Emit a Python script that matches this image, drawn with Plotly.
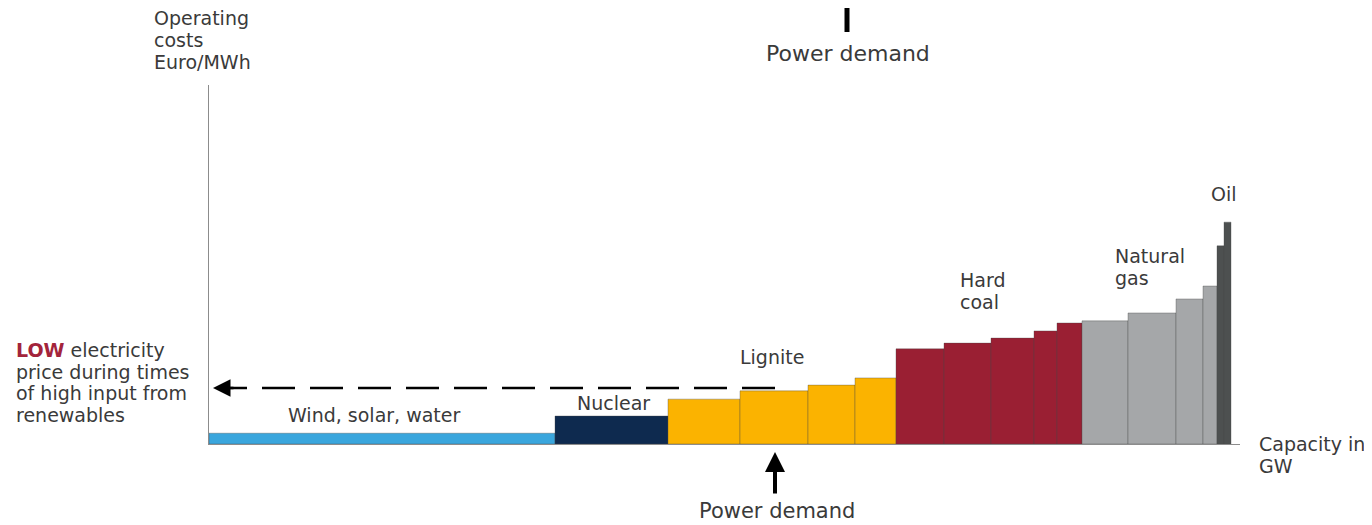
import plotly.graph_objects as go

# ---- data (capacity in GW, operating cost in Euro/MWh) ----
wind_w = [34.6]
wind_c = [3.0]
nuclear_w = [11.3]
nuclear_c = [7.8]
lignite_w = [7.2, 6.8, 4.7, 4.1]
lignite_c = [12.5, 14.8, 16.4, 18.4]
coal_w = [4.8, 4.7, 4.3, 2.3, 2.5]
coal_c = [26.5, 28.1, 29.5, 31.5, 33.7]
gas_w = [4.6, 4.8, 2.7, 1.4]
gas_c = [34.3, 36.5, 40.4, 44.0]
oil_w = [0.7, 0.7]
oil_c = [55.2, 61.8]

groups = [
    ("Wind, solar, water", wind_w, wind_c, "#3aa6dd"),
    ("Nuclear", nuclear_w, nuclear_c, "#0e2a4f"),
    ("Lignite", lignite_w, lignite_c, "#fbb300"),
    ("Hard coal", coal_w, coal_c, "#9a1f33"),
    ("Natural gas", gas_w, gas_c, "#a5a7a9"),
    ("Oil", oil_w, oil_c, "#4d5050"),
]

W, H = 1372, 525
OFF = 8  # page body margin
def px(x):
    return (x - OFF) / W
def py(y):
    return 1 - (y - OFF) / H

TXT = "#3a3a3a"
FONT = "DejaVu Sans"
FS = 19

fig = go.Figure()
start = 0.0
for name, ws, cs, col in groups:
    xs = []
    for w in ws:
        xs.append(start + w / 2)
        start += w
    fig.add_trace(go.Bar(
        x=xs, y=cs, width=ws, base=0, name=name,
        marker=dict(color=col, line=dict(color="rgba(70,70,70,0.35)", width=1)),
        showlegend=False, hoverinfo="skip",
    ))

fig.update_layout(
    width=W, height=H, margin=dict(l=0, r=0, t=0, b=0),
    paper_bgcolor="white", plot_bgcolor="white",
    barmode="overlay",
    font=dict(family=FONT, size=FS, color=TXT),
    xaxis=dict(domain=[px(209), px(1240)], range=[0, 103.1], showline=True,
               linecolor="#8c8c8c", linewidth=1, showgrid=False, zeroline=False,
               showticklabels=False, ticks=""),
    yaxis=dict(domain=[py(444), py(85)], range=[0, 100], showline=True,
               linecolor="#8c8c8c", linewidth=1, showgrid=False, zeroline=False,
               showticklabels=False, ticks=""),
)

def txt(t, x, y, xanchor="center", size=FS):
    fig.add_annotation(text=t, x=px(x), y=py(y), xref="paper", yref="paper",
                       xanchor=xanchor, yanchor="middle", align="left",
                       showarrow=False, font=dict(family=FONT, size=size, color=TXT))

def lines(ls, x, y0, step=21.5, xanchor="left"):
    for i, t in enumerate(ls):
        txt(t, x, y0 + i * step, xanchor=xanchor)

lines(["Operating", "costs", "Euro/MWh"], 152, 18, step=22)
txt("Power demand", 848, 53, size=22)
txt("Power demand", 777, 511, size=21)
txt("Wind, solar, water", 374, 415)
txt("Nuclear", 613, 403)
txt("Lignite", 772, 357)
lines(["Hard", "coal"], 958, 280, step=22)
lines(["Natural", "gas"], 1113, 256, step=22)
txt("Oil", 1224, 194)
lines(["Capacity in", "GW"], 1257, 444, step=22)
lines(["<span style='color:#a3243b'><b>LOW</b></span> electricity",
       "price during times", "of high input from", "renewables"], 14, 350)

# dashed arrow toward the low price on the cost axis
fig.add_shape(type="line", xref="paper", yref="paper",
              x0=px(775), y0=py(388), x1=px(226), y1=py(388),
              line=dict(color="black", width=2.5, dash="33px,15px"))
fig.add_annotation(x=px(213), y=py(388), xref="paper", yref="paper",
                   ax=22, ay=0, text="",
                   showarrow=True, arrowhead=2, arrowsize=1.4, arrowwidth=2.5, arrowcolor="black")

# power demand arrows
fig.add_annotation(x=px(775), y=py(452), xref="paper", yref="paper",
                   ax=0, ay=43, text="", showarrow=True, arrowhead=2,
                   arrowsize=1, arrowwidth=4, arrowcolor="black")
fig.add_shape(type="line", xref="paper", yref="paper",
              x0=px(847), y0=py(OFF), x1=px(847), y1=py(32),
              line=dict(color="black", width=5))

# small cropped box at right edge
fig.add_shape(type="rect", xref="paper", yref="paper",
              x0=px(1364), x1=px(1372), y0=py(462), y1=py(488),
              line=dict(width=0), fillcolor="#17635e")

fig.write_html("out.html")
